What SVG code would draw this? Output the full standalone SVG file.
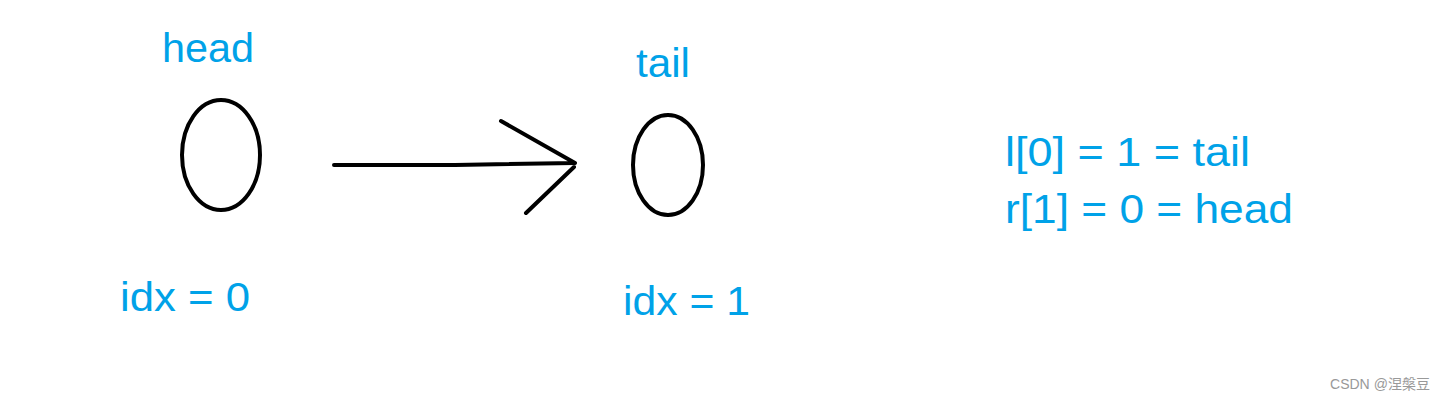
<svg xmlns="http://www.w3.org/2000/svg" width="1445" height="402" viewBox="0 0 1445 402">
<style>
.t{font-family:"Liberation Sans","Noto Sans",sans-serif;font-size:40px;fill:#00A2E8}
.n{fill:none;stroke:#000;stroke-width:4}
.c{fill:none;stroke:#000;stroke-width:4;stroke-linecap:round}
.w{font-family:"Liberation Sans","Noto Sans CJK SC",sans-serif;font-size:14px;fill:#999}
</style>
<rect width="1445" height="402" fill="#fff"/>
<g id="head">
<text class="t" x="162" y="62" textLength="92" lengthAdjust="spacingAndGlyphs">head</text>
<ellipse class="n" cx="221" cy="155" rx="39" ry="55"/>
<text class="t" x="120" y="311" textLength="130" lengthAdjust="spacingAndGlyphs">idx = 0</text>
</g>
<g id="tail">
<text class="t" x="636" y="77" textLength="54" lengthAdjust="spacingAndGlyphs">tail</text>
<ellipse class="n" cx="668" cy="165" rx="35" ry="50"/>
<text class="t" x="623" y="315" textLength="127" lengthAdjust="spacingAndGlyphs">idx = 1</text>
</g>
<g id="connectors">
<path class="c" d="M334 165 L455 165 L575 163 M501 121 L575 163 M526 213 L574 167"/>
</g>
<g id="notes">
<text class="t" x="1005" y="166" textLength="245" lengthAdjust="spacingAndGlyphs">l[0] = 1 = tail</text>
<text class="t" x="1005" y="223" textLength="288" lengthAdjust="spacingAndGlyphs">r[1] = 0 = head</text>
</g>
<text class="w" x="1330" y="389" textLength="100" lengthAdjust="spacingAndGlyphs">CSDN @涅槃豆</text>
</svg>
